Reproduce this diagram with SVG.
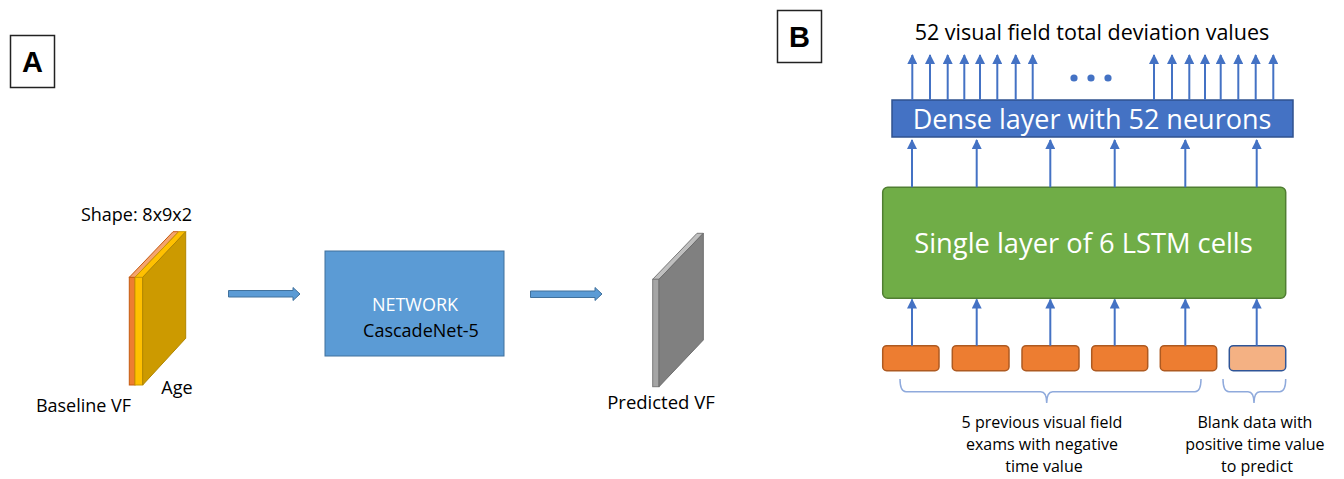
<svg xmlns="http://www.w3.org/2000/svg" width="1344" height="479" viewBox="0 0 1344 479">
  <style>
    .lbl { font-family: "Open Sans", "Noto Sans", sans-serif; fill: #000; }
    .wht { font-family: "Open Sans", "Noto Sans", sans-serif; fill: #fff; }
    .tag { font-family: "Liberation Sans", Arial, sans-serif; font-weight: bold; font-size: 29px; fill: #000; }
    .tagbox { fill: #fff; stroke: #222; stroke-width: 1.5; }
    .blk { fill: #5B9BD5; stroke: #41719C; stroke-width: 1; }
    .conn { stroke: #4472C4; stroke-width: 2; fill: none; }
    .brace { stroke: #8FAADC; stroke-width: 1.5; fill: none; }
    .cell { fill: #ED7D31; stroke: #AE5A21; stroke-width: 1.5; }
  </style>
  <defs>
    <marker id="tip" markerWidth="10" markerHeight="10" refX="9" refY="5" orient="auto" markerUnits="userSpaceOnUse" viewBox="0 0 10 10">
      <path d="M0,0 L10,5 L0,10 Z" fill="#4472C4"/>
    </marker>
  </defs>

  <!-- Panel A -->
  <g id="tag-a">
    <rect class="tagbox" x="10.5" y="35.5" width="44" height="52"/>
    <text class="tag" x="32.5" y="72" text-anchor="middle">A</text>
  </g>

  <g id="baseline-input">
    <!-- thin front faces -->
    <rect x="129.3" y="277.3" width="5.7" height="107.7" fill="#ED7D31" stroke="#C55A11" stroke-width="1"/>
    <rect x="135" y="277.3" width="7.7" height="107.7" fill="#FFC000" stroke="#C99A00" stroke-width="1"/>
    <!-- top edges -->
    <polygon points="129.3,277.3 135,277.3 178.7,231.7 173,231.7" fill="#F4A46E" stroke="#C55A11" stroke-width="1"/>
    <polygon points="135,277.3 142.7,277.3 185.7,231.7 178.7,231.7" fill="#FFC000" stroke="#C99A00" stroke-width="1"/>
    <!-- side face -->
    <polygon points="142.7,277.3 185.7,231.7 185.7,338.3 142.7,385" fill="#CC9A00" stroke="#B08500" stroke-width="1"/>
    <text class="lbl" x="136.5" y="221" font-size="18" text-anchor="middle">Shape: 8x9x2</text>
    <text class="lbl" x="177" y="394" font-size="18" text-anchor="middle">Age</text>
    <text class="lbl" x="83.5" y="412" font-size="18" text-anchor="middle">Baseline VF</text>
  </g>

  <g id="network">
    <rect class="blk" x="325" y="251" width="179" height="105"/>
    <text class="wht" x="415" y="311" font-size="18" text-anchor="middle">NETWORK</text>
    <text class="lbl" x="421" y="337" font-size="18" text-anchor="middle">CascadeNet-5</text>
  </g>

  <g id="predicted-output">
    <polygon points="652.7,279.3 659,279.3 703.3,233.3 697,233.3" fill="#BFBFBF" stroke="#7A7A7A" stroke-width="1"/>
    <rect x="652.7" y="279.3" width="6.3" height="107.4" fill="#A5A5A5" stroke="#7A7A7A" stroke-width="1"/>
    <polygon points="659,279.3 703.3,233.3 703.3,340 659,386.7" fill="#808080" stroke="#6E6E6E" stroke-width="1"/>
    <text class="lbl" x="661" y="409" font-size="18.5" text-anchor="middle">Predicted VF</text>
  </g>

  <g id="flow-a">
    <path class="blk" d="M228.5,290.5 H293 V287.5 L300,294 L293,300.5 V297 H228.5 Z"/>
    <path class="blk" d="M530.5,291 H595 V287.5 L602,294 L595,300.5 V297.5 H530.5 Z"/>
  </g>

  <!-- Panel B -->
  <g id="tag-b">
    <rect class="tagbox" x="777.5" y="10.5" width="44" height="52"/>
    <text class="tag" x="799.5" y="47" text-anchor="middle">B</text>
  </g>

  <g id="outputs">
    <text class="lbl" x="1092" y="40" font-size="21.5" text-anchor="middle">52 visual field total deviation values</text>
    <circle cx="1074" cy="78" r="3.6" fill="#4472C4"/>
    <circle cx="1091" cy="78" r="3.6" fill="#4472C4"/>
    <circle cx="1108" cy="78" r="3.6" fill="#4472C4"/>
  </g>

  <g id="dense">
    <rect x="892" y="100" width="401" height="37" fill="#4472C4" stroke="#2F528F" stroke-width="1.5"/>
    <text class="wht" x="1092" y="128.5" font-size="27" text-anchor="middle">Dense layer with 52 neurons</text>
  </g>

  <g id="lstm">
    <rect x="882.7" y="187.3" width="403" height="111" rx="5" fill="#70AD47" stroke="#507E32" stroke-width="1.5"/>
    <text class="wht" x="1083.5" y="253" font-size="27.3" text-anchor="middle">Single layer of 6 LSTM cells</text>
  </g>

  <g id="inputs">
    <rect class="cell" x="882.7" y="345.7" width="56.3" height="25" rx="4"/>
    <rect class="cell" x="952.3" y="345.7" width="56.7" height="25" rx="4"/>
    <rect class="cell" x="1022" y="345.7" width="57" height="25" rx="4"/>
    <rect class="cell" x="1091.7" y="345.7" width="56" height="25" rx="4"/>
    <rect class="cell" x="1160.3" y="345.7" width="56.4" height="25" rx="4"/>
    <rect x="1229.3" y="345.7" width="56.4" height="25" rx="4" fill="#F4B183" stroke="#2F5597" stroke-width="1.5"/>
  </g>

  <g id="input-notes">
    <path class="brace" d="M900,379 Q900,391.7 906,391.7 H1040.7 Q1046.7,391.7 1046.7,403 Q1046.7,391.7 1052.7,391.7 H1195 Q1201,391.7 1201,379"/>
    <path class="brace" d="M1223,379 Q1223,391.7 1229,391.7 H1248 Q1254,391.7 1254,403 Q1254,391.7 1260,391.7 H1279.7 Q1285.7,391.7 1285.7,379"/>
    <text class="lbl" font-size="16" text-anchor="middle">
      <tspan x="1044" y="428">5 previous visual field</tspan>
      <tspan x="1044" y="450">exams with negative</tspan>
      <tspan x="1044" y="472">time value</tspan>
    </text>
    <text class="lbl" font-size="16" text-anchor="middle">
      <tspan x="1257" y="428">Blank data with</tspan>
      <tspan x="1257" y="450">positive time value</tspan>
      <tspan x="1257" y="472">to predict</tspan>
    </text>
  </g>

  <g id="connectors">
    <!-- inputs to LSTM -->
    <path class="conn" marker-end="url(#tip)" d="M912,345.7 V299.5"/>
    <path class="conn" marker-end="url(#tip)" d="M976.7,345.7 V299.5"/>
    <path class="conn" marker-end="url(#tip)" d="M1050.3,345.7 V299.5"/>
    <path class="conn" marker-end="url(#tip)" d="M1114.7,345.7 V299.5"/>
    <path class="conn" marker-end="url(#tip)" d="M1185.3,345.7 V299.5"/>
    <path class="conn" marker-end="url(#tip)" d="M1256.7,345.7 V299.5"/>
    <!-- LSTM to dense -->
    <path class="conn" marker-end="url(#tip)" d="M912,187.3 V140"/>
    <path class="conn" marker-end="url(#tip)" d="M976.7,187.3 V140"/>
    <path class="conn" marker-end="url(#tip)" d="M1050.3,187.3 V140"/>
    <path class="conn" marker-end="url(#tip)" d="M1114.7,187.3 V140"/>
    <path class="conn" marker-end="url(#tip)" d="M1185.3,187.3 V140"/>
    <path class="conn" marker-end="url(#tip)" d="M1256.7,187.3 V140"/>
    <!-- dense to outputs -->
    <path class="conn" marker-end="url(#tip)" d="M912.3,100 V55"/>
    <path class="conn" marker-end="url(#tip)" d="M930,100 V55"/>
    <path class="conn" marker-end="url(#tip)" d="M947.7,100 V55"/>
    <path class="conn" marker-end="url(#tip)" d="M964.3,100 V55"/>
    <path class="conn" marker-end="url(#tip)" d="M980,100 V55"/>
    <path class="conn" marker-end="url(#tip)" d="M997.3,100 V55"/>
    <path class="conn" marker-end="url(#tip)" d="M1015.7,100 V55"/>
    <path class="conn" marker-end="url(#tip)" d="M1032.7,100 V55"/>
    <path class="conn" marker-end="url(#tip)" d="M1154,100 V55"/>
    <path class="conn" marker-end="url(#tip)" d="M1172,100 V55"/>
    <path class="conn" marker-end="url(#tip)" d="M1189.3,100 V55"/>
    <path class="conn" marker-end="url(#tip)" d="M1205,100 V55"/>
    <path class="conn" marker-end="url(#tip)" d="M1220.7,100 V55"/>
    <path class="conn" marker-end="url(#tip)" d="M1238.3,100 V55"/>
    <path class="conn" marker-end="url(#tip)" d="M1255.7,100 V55"/>
    <path class="conn" marker-end="url(#tip)" d="M1273.3,100 V55"/>
  </g>
</svg>
